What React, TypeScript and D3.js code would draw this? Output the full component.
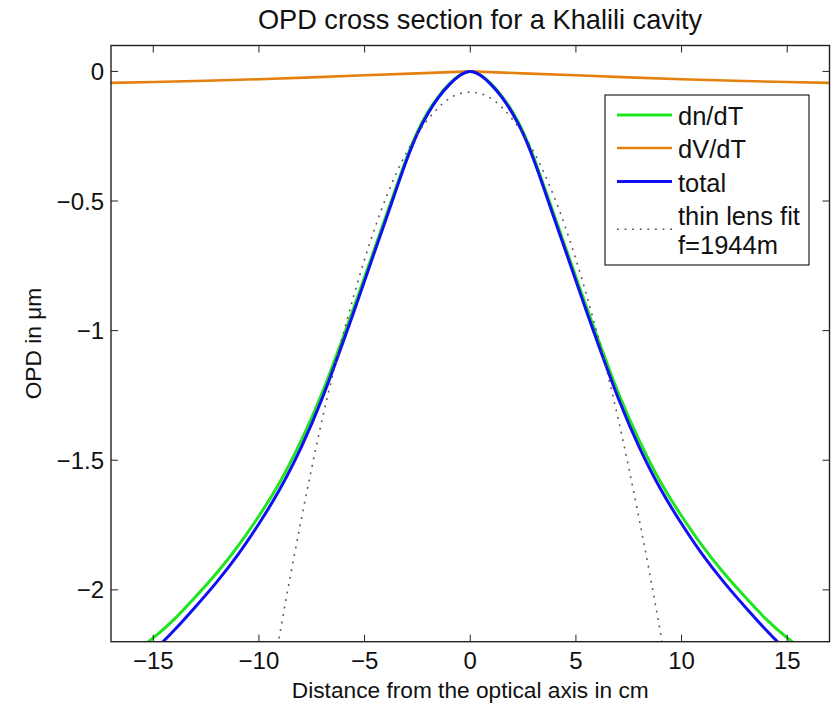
import React from "react";
import * as d3 from "d3";

// ---- data ----
const titleText = "OPD cross section for a Khalili cavity";
const xLabelText = "Distance from the optical axis in cm";
const yLabelText = "OPD in μm";

const xTicks = [-15, -10, -5, 0, 5, 10, 15];
const yTicks = [0, -0.5, -1, -1.5, -2];
const xDomain = [-17, 17];
const yDomain = [-2.2, 0.1];

// radial positions (cm) for the thermal curves
const radius = [
  -17, -16, -15, -14, -13, -12, -11, -10, -9, -8, -7, -6, -5.5, -5, -4.5, -4, -3.5, -3, -2.5, -2, -1.5, -1, -0.5,
  0, 0.5, 1, 1.5, 2, 2.5, 3, 3.5, 4, 4.5, 5, 5.5, 6, 7, 8, 9, 10, 11, 12, 13, 14, 15, 16, 17,
];
// dn/dT contribution (μm)
const dnDT = [
  -2.3, -2.245, -2.185, -2.113, -2.027, -1.935, -1.832, -1.715, -1.583, -1.424, -1.239, -1.022, -0.909, -0.793,
  -0.677, -0.561, -0.445, -0.331, -0.233, -0.156, -0.096, -0.049, -0.015,
  0, -0.015, -0.049, -0.096, -0.156, -0.233, -0.331, -0.445, -0.561, -0.677, -0.793, -0.909, -1.022, -1.239,
  -1.424, -1.583, -1.715, -1.832, -1.935, -2.027, -2.113, -2.185, -2.245, -2.3,
];
// total OPD (μm)
const total = [
  -2.37, -2.3, -2.235, -2.155, -2.065, -1.97, -1.865, -1.745, -1.61, -1.45, -1.26, -1.04, -0.925, -0.808, -0.69,
  -0.573, -0.455, -0.34, -0.24, -0.162, -0.1, -0.052, -0.016,
  0, -0.016, -0.052, -0.1, -0.162, -0.24, -0.34, -0.455, -0.573, -0.69, -0.808, -0.925, -1.04, -1.26, -1.45, -1.61,
  -1.745, -1.865, -1.97, -2.065, -2.155, -2.235, -2.3, -2.37,
];
// dV/dT contribution (μm)
const dvRadius = [-17, -15, -12.5, -10, -7.5, -5, -2.5, 0, 2.5, 5, 7.5, 10, 12.5, 15, 17];
const dVdT = [-0.044, -0.041, -0.036, -0.03, -0.023, -0.015, -0.0075, 0, -0.0075, -0.015, -0.023, -0.03, -0.036, -0.041, -0.044];
// thin lens fit, f = 1944 m
const fitRadius = [-10, -9, -8, -7, -6, -5, -4, -3, -2, -1, 0, 1, 2, 3, 4, 5, 6, 7, 8, 9, 10];
const thinLens = [
  -2.65, -2.165, -1.73, -1.34, -1.01, -0.725, -0.49, -0.31, -0.185, -0.105, -0.08, -0.105, -0.185, -0.31, -0.49,
  -0.725, -1.01, -1.34, -1.73, -2.165, -2.65,
];

const legendLabels = ["dn/dT", "dV/dT", "total", "thin lens fit", "f=1944m"];
const colors = { dn: "#1ee61e", dv: "#e5800f", total: "#1010f2", fit: "#555555" };

// ---- layout ----
const W = 834;
const H = 707;
const plot = { left: 111, right: 829.5, top: 45.5, bottom: 641.7 };
const FONT = "'Liberation Sans', Arial, Helvetica, sans-serif";
const fmt = (v: number) => (v < 0 ? "\u2212" + String(Math.abs(v)) : String(v));

export default function App() {
  const x = d3.scaleLinear().domain(xDomain).range([plot.left, plot.right]);
  const y = d3.scaleLinear().domain(yDomain).range([plot.bottom, plot.top]);

  const mk = (xsArr: number[], ysArr: number[], curve: any) =>
    d3
      .line<number>()
      .x((_, i) => x(xsArr[i]))
      .y((v) => y(v))
      .curve(curve)(ysArr) as string;

  const dnPath = mk(radius, dnDT, d3.curveNatural);
  const totPath = mk(radius, total, d3.curveNatural);
  const dvPath = mk(dvRadius, dVdT, d3.curveLinear);
  const fitPath = mk(fitRadius, thinLens, d3.curveNatural);

  const tickLen = 7;
  const lg = { x0: 605, x1: 809, y0: 95, y1: 265, lineX0: 617, lineX1: 672, textX: 678 };
  const lgBase = [124.5, 158, 191.5, 225, 253.5];

  return (
    <svg
      width={W}
      height={H}
      style={{ position: "absolute", left: 0, top: 0, background: "#fff" }}
      fontFamily={FONT}
    >
      <defs>
        <clipPath id="plotClip">
          <rect x={plot.left} y={plot.top} width={plot.right - plot.left} height={plot.bottom - plot.top} />
        </clipPath>
      </defs>
      <rect x={0} y={0} width={W} height={H} fill="#fff" />

      {/* title */}
      <text x={480} y={29} textAnchor="middle" fontSize={27.2} fill="#111">
        {titleText}
      </text>

      {/* curves */}
      <g clipPath="url(#plotClip)" fill="none">
        <path d={dnPath} stroke={colors.dn} strokeWidth={3} />
        <path d={dvPath} stroke={colors.dv} strokeWidth={2.6} />
        <path d={totPath} stroke={colors.total} strokeWidth={3} />
        <path d={fitPath} stroke={colors.fit} strokeWidth={1.6} strokeDasharray="1.8 5.8" />
      </g>

      {/* ticks */}
      <g stroke="#222" strokeWidth={1}>
        {xTicks.map((t) => (
          <g key={"xt" + t}>
            <line x1={x(t)} x2={x(t)} y1={plot.bottom} y2={plot.bottom - tickLen} />
            <line x1={x(t)} x2={x(t)} y1={plot.top} y2={plot.top + tickLen} />
          </g>
        ))}
        {yTicks.map((t) => (
          <g key={"yt" + t}>
            <line x1={plot.left} x2={plot.left + tickLen} y1={y(t)} y2={y(t)} />
            <line x1={plot.right} x2={plot.right - tickLen} y1={y(t)} y2={y(t)} />
          </g>
        ))}
      </g>

      {/* box */}
      <rect
        x={plot.left}
        y={plot.top}
        width={plot.right - plot.left}
        height={plot.bottom - plot.top}
        fill="none"
        stroke="#222"
        strokeWidth={1.4}
      />

      {/* tick labels */}
      <g fontSize={24} fill="#111">
        {xTicks.map((t) => (
          <text key={"xl" + t} x={x(t)} y={669} textAnchor="middle">
            {fmt(t)}
          </text>
        ))}
        {yTicks.map((t) => (
          <text key={"yl" + t} x={104} y={y(t) + 8.5} textAnchor="end">
            {fmt(t)}
          </text>
        ))}
      </g>

      {/* axis labels */}
      <text x={(plot.left + plot.right) / 2} y={698} textAnchor="middle" fontSize={22.7} fill="#111">
        {xLabelText}
      </text>
      <text
        transform={`translate(41, ${(plot.top + plot.bottom) / 2}) rotate(-90)`}
        textAnchor="middle"
        fontSize={22.7}
        fill="#111"
      >
        {yLabelText}
      </text>

      {/* legend */}
      <rect x={lg.x0} y={lg.y0} width={lg.x1 - lg.x0} height={lg.y1 - lg.y0} fill="#fff" stroke="#222" strokeWidth={1.2} />
      <line x1={lg.lineX0} x2={lg.lineX1} y1={lgBase[0] - 9.5} y2={lgBase[0] - 9.5} stroke={colors.dn} strokeWidth={3} />
      <line x1={lg.lineX0} x2={lg.lineX1} y1={lgBase[1] - 10} y2={lgBase[1] - 10} stroke={colors.dv} strokeWidth={2.6} />
      <line x1={lg.lineX0} x2={lg.lineX1} y1={lgBase[2] - 10} y2={lgBase[2] - 10} stroke={colors.total} strokeWidth={3} />
      <line
        x1={lg.lineX0}
        x2={lg.lineX1}
        y1={(lgBase[3] + lgBase[4]) / 2 - 10}
        y2={(lgBase[3] + lgBase[4]) / 2 - 10}
        stroke={colors.fit}
        strokeWidth={1.6}
        strokeDasharray="1.8 5.8"
      />
      <g fontSize={25.5} fill="#111">
        {legendLabels.map((l, i) => (
          <text key={l} x={lg.textX} y={lgBase[i]}>
            {l}
          </text>
        ))}
      </g>
    </svg>
  );
}
